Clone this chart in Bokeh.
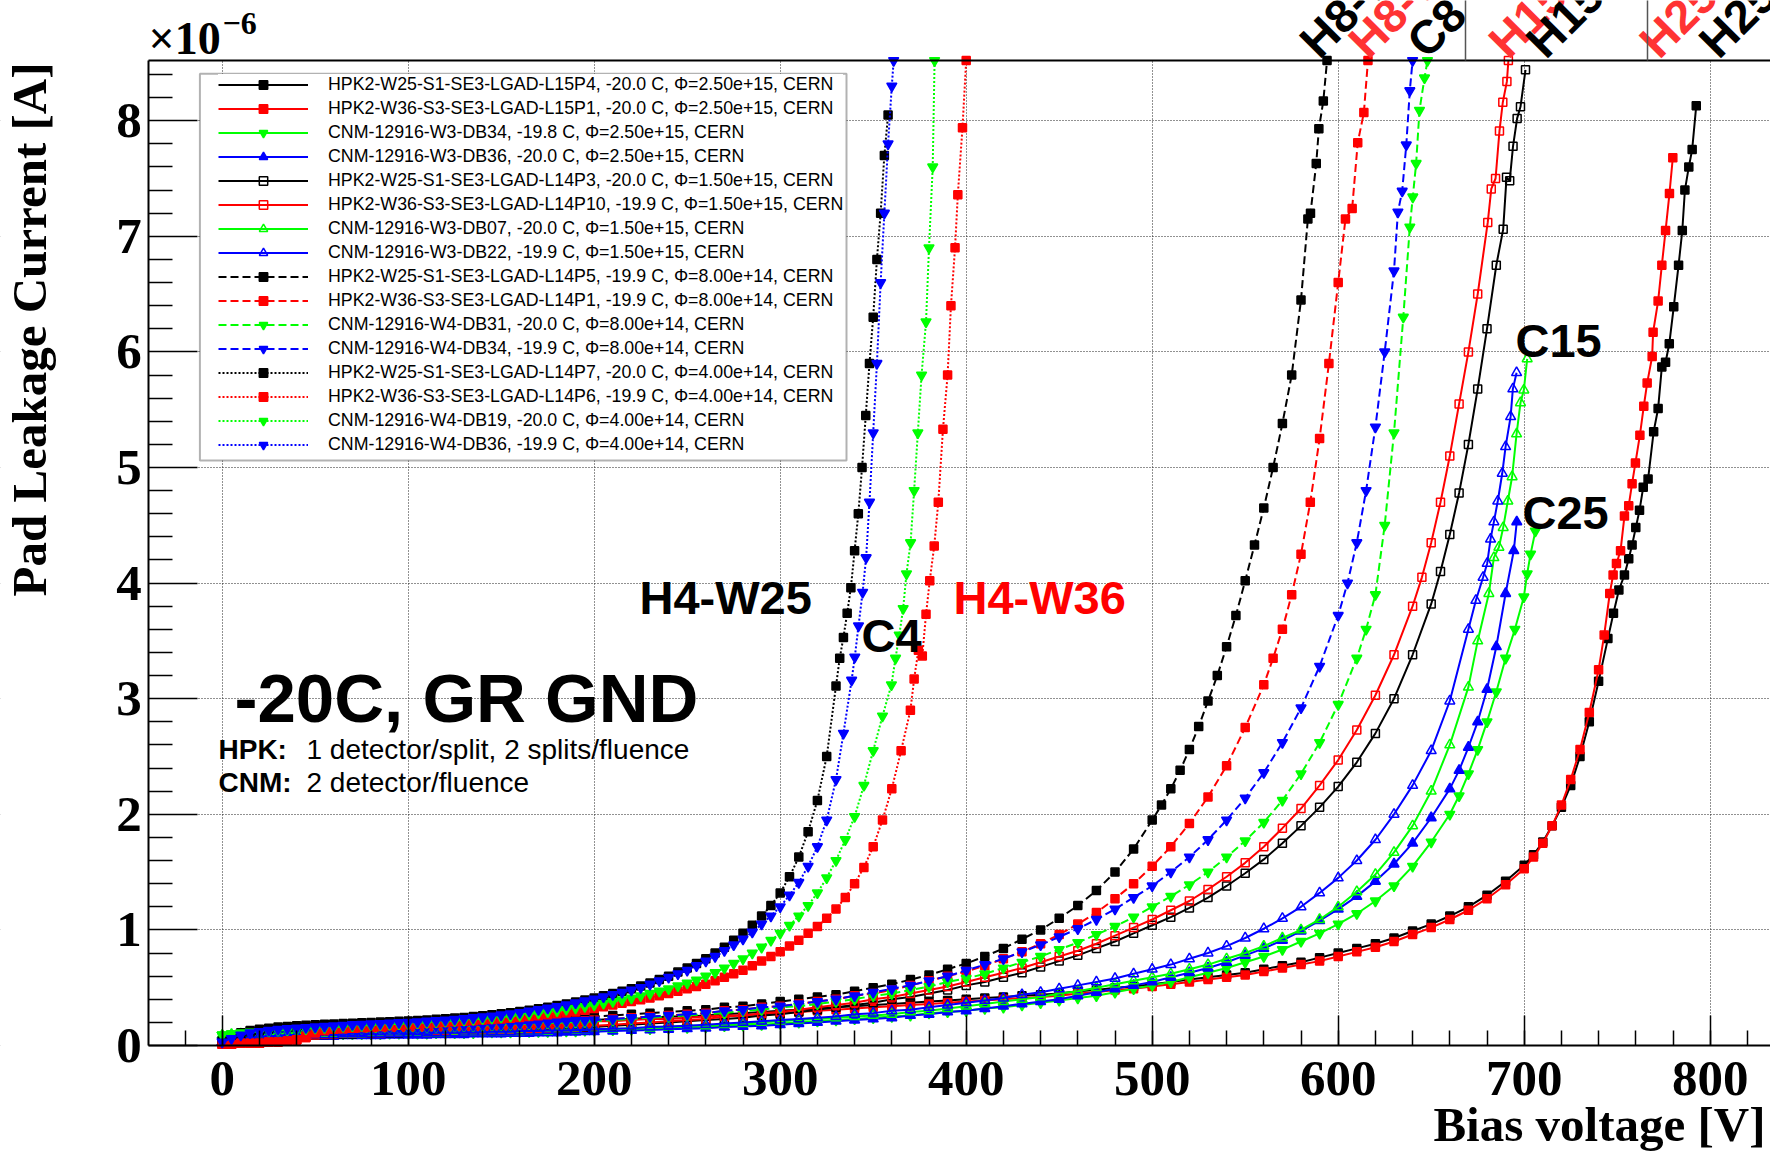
import math
from bokeh.plotting import figure
from bokeh.models import (Range1d, LinearAxis, FixedTicker, Legend, LegendItem, Label,
                          BoxAnnotation, Arrow, SingleIntervalTicker)
from bokeh.embed import file_html
from bokeh.resources import INLINE

# ---------------- data (bias voltage [V], pad current [1e-6 A]) ----------------
labels = [
    "HPK2-W25-S1-SE3-LGAD-L15P4, -20.0 C, \u03a6=2.50e+15, CERN",
    "HPK2-W36-S3-SE3-LGAD-L15P1, -20.0 C, \u03a6=2.50e+15, CERN",
    "CNM-12916-W3-DB34, -19.8 C, \u03a6=2.50e+15, CERN",
    "CNM-12916-W3-DB36, -20.0 C, \u03a6=2.50e+15, CERN",
    "HPK2-W25-S1-SE3-LGAD-L14P3, -20.0 C, \u03a6=1.50e+15, CERN",
    "HPK2-W36-S3-SE3-LGAD-L14P10, -19.9 C, \u03a6=1.50e+15, CERN",
    "CNM-12916-W3-DB07, -20.0 C, \u03a6=1.50e+15, CERN",
    "CNM-12916-W3-DB22, -19.9 C, \u03a6=1.50e+15, CERN",
    "HPK2-W25-S1-SE3-LGAD-L14P5, -19.9 C, \u03a6=8.00e+14, CERN",
    "HPK2-W36-S3-SE3-LGAD-L14P1, -19.9 C, \u03a6=8.00e+14, CERN",
    "CNM-12916-W4-DB31, -20.0 C, \u03a6=8.00e+14, CERN",
    "CNM-12916-W4-DB34, -19.9 C, \u03a6=8.00e+14, CERN",
    "HPK2-W25-S1-SE3-LGAD-L14P7, -20.0 C, \u03a6=4.00e+14, CERN",
    "HPK2-W36-S3-SE3-LGAD-L14P6, -19.9 C, \u03a6=4.00e+14, CERN",
    "CNM-12916-W4-DB19, -20.0 C, \u03a6=4.00e+14, CERN",
    "CNM-12916-W4-DB36, -19.9 C, \u03a6=4.00e+14, CERN",
]

# measurement voltage grids [V]
V_LOW = [0, 5, 10, 15, 20, 25, 30, 35, 40, 45,
         50, 55, 60, 65, 70, 75, 80, 85, 90, 95,
         100, 105, 110, 115, 120, 125, 130, 135, 140, 145,
         150, 155, 160, 165, 170, 175, 180, 185, 190, 195]
V_MID10 = [200, 210, 220, 230, 240, 250, 260, 270, 280, 290, 300, 310, 320, 330, 340, 350, 360, 370, 380, 390,
           400, 410, 420, 430, 440, 450, 460, 470, 480, 490, 500, 510, 520, 530, 540, 550, 560, 570, 580, 590,
           600, 610, 620, 630, 640, 650, 660, 670, 680, 690, 700]
V_MID5 = [200, 205, 210, 215, 220, 225, 230, 235, 240, 245, 250, 255, 260, 265, 270, 275, 280, 285, 290, 295,
          300, 305, 310, 315, 320, 325, 330, 335, 340, 345, 350, 355, 360, 365, 370]

# ---- 2.5e15 ----
v_h25_w25 = V_LOW + V_MID10[:51] + [705, 710, 715, 720, 725, 730, 735, 740, 745, 748, 750.9, 753.9, 756.2, 758,
                                    760, 762, 764, 766.6, 769.6, 772, 774, 776, 778, 780.4, 783, 785, 786.4,
                                    788.5, 790.3, 792.5]
i_h25_w25 = [0.03, 0.03, 0.04, 0.04, 0.04, 0.05, 0.05, 0.05, 0.06, 0.08,
             0.13, 0.14, 0.15, 0.15, 0.155, 0.16, 0.16, 0.165, 0.165, 0.17,
             0.17, 0.175, 0.175, 0.18, 0.18, 0.185, 0.185, 0.19, 0.19, 0.195,
             0.195, 0.2, 0.2, 0.205, 0.205, 0.21, 0.21, 0.215, 0.215, 0.22,
             0.22, 0.23, 0.23, 0.24, 0.25, 0.25, 0.26, 0.27, 0.28, 0.29,
             0.3, 0.31, 0.32, 0.33, 0.34, 0.35, 0.36, 0.37, 0.38, 0.39,
             0.4, 0.41, 0.42, 0.43, 0.44, 0.45, 0.47, 0.48, 0.5, 0.51,
             0.53, 0.55, 0.57, 0.59, 0.61, 0.63, 0.66, 0.69, 0.72, 0.76,
             0.8, 0.84, 0.88, 0.93, 0.99, 1.05, 1.12, 1.2, 1.3, 1.42,
             1.56, 1.65, 1.76, 1.9, 2.06, 2.25, 2.5, 2.8, 3.15, 3.52,
             3.74, 3.94, 4.07, 4.21, 4.33, 4.48, 4.63, 4.83, 4.9, 5.31,
             5.51, 5.87, 5.91, 6.07, 6.39, 6.75, 7.05, 7.4, 7.6, 7.75, 8.13]
v_h25_w36 = V_LOW + V_MID10[:51] + [705, 710, 715, 720, 725, 730, 735, 740, 743, 746, 747.8, 749.6, 751.8, 753.9,
                                    756.2, 758, 759.8, 762.2, 764.3, 766.1, 768.8, 769.3, 772, 774, 776, 778.1,
                                    779.9]
i_h25_w36 = [0.01, 0.01, 0.02, 0.02, 0.02, 0.03, 0.03, 0.04, 0.05, 0.07,
             0.11, 0.13, 0.14, 0.14, 0.145, 0.15, 0.15, 0.155, 0.155, 0.16,
             0.16, 0.165, 0.165, 0.17, 0.17, 0.17, 0.175, 0.175, 0.18, 0.18,
             0.18, 0.185, 0.185, 0.19, 0.19, 0.195, 0.195, 0.2, 0.2, 0.205,
             0.21, 0.21, 0.22, 0.23, 0.23, 0.24, 0.25, 0.26, 0.26, 0.27,
             0.28, 0.29, 0.3, 0.31, 0.32, 0.33, 0.34, 0.35, 0.36, 0.37,
             0.38, 0.39, 0.4, 0.41, 0.42, 0.43, 0.45, 0.46, 0.48, 0.49,
             0.51, 0.53, 0.55, 0.57, 0.59, 0.61, 0.64, 0.67, 0.7, 0.73,
             0.77, 0.81, 0.85, 0.9, 0.96, 1.02, 1.09, 1.17, 1.27, 1.39,
             1.53, 1.63, 1.75, 1.9, 2.08, 2.3, 2.56, 2.88, 3.25, 3.55,
             3.91, 4.07, 4.17, 4.28, 4.58, 4.67, 4.86, 5.04, 5.28, 5.53,
             5.73, 5.96, 6.17, 6.44, 6.75, 7.05, 7.37, 7.68]
v_c25_db34 = V_LOW + V_MID10[:47] + [665, 670, 675, 680, 685, 690, 695, 699.8, 701.6, 703.4, 706]
i_c25_db34 = [0.09, 0.095, 0.1, 0.1, 0.1, 0.1, 0.1, 0.1, 0.1, 0.1,
              0.1, 0.1, 0.1, 0.1, 0.1, 0.1, 0.1, 0.1, 0.105, 0.105,
              0.105, 0.105, 0.105, 0.11, 0.11, 0.11, 0.11, 0.11, 0.115, 0.115,
              0.115, 0.115, 0.12, 0.12, 0.12, 0.12, 0.125, 0.125, 0.125, 0.13,
              0.13, 0.135, 0.14, 0.145, 0.15, 0.155, 0.16, 0.17, 0.175, 0.18,
              0.19, 0.2, 0.21, 0.22, 0.23, 0.24, 0.25, 0.26, 0.28, 0.29,
              0.3, 0.32, 0.33, 0.35, 0.37, 0.39, 0.41, 0.43, 0.46, 0.49,
              0.52, 0.55, 0.59, 0.63, 0.67, 0.72, 0.77, 0.83, 0.9, 0.97,
              1.05, 1.14, 1.25, 1.38, 1.55, 1.76, 2.0,
              2.16, 2.35, 2.56, 2.8, 3.06, 3.35, 3.6, 3.88, 4.08, 4.25, 4.45]
v_c25_db36 = V_LOW + V_MID10[:47] + [665, 670, 675, 680, 685, 690, 694.4, 696]
i_c25_db36 = [0.03, 0.05, 0.06, 0.065, 0.07, 0.07, 0.075, 0.075, 0.08, 0.08,
              0.08, 0.08, 0.08, 0.085, 0.085, 0.085, 0.085, 0.085, 0.09, 0.09,
              0.09, 0.09, 0.09, 0.095, 0.095, 0.095, 0.095, 0.1, 0.1, 0.1,
              0.1, 0.105, 0.105, 0.105, 0.11, 0.11, 0.11, 0.115, 0.115, 0.12,
              0.12, 0.125, 0.13, 0.135, 0.14, 0.145, 0.15, 0.16, 0.165, 0.17,
              0.18, 0.19, 0.2, 0.21, 0.22, 0.23, 0.24, 0.26, 0.27, 0.29,
              0.3, 0.32, 0.34, 0.36, 0.38, 0.4, 0.43, 0.46, 0.49, 0.52,
              0.55, 0.59, 0.63, 0.67, 0.72, 0.78, 0.84, 0.91, 0.99, 1.08,
              1.18, 1.29, 1.42, 1.57, 1.75, 1.97, 2.22,
              2.38, 2.58, 2.8, 3.08, 3.45, 3.91, 4.28, 4.53]

# ---- 1.5e15 ----
v_h15_w25 = V_LOW + V_MID10[:46] + [655, 660, 665, 670, 675, 680, 685, 688.7, 690.5, 692.2, 694, 696.2, 698,
                                    700.7]
i_h15_w25 = [0.02, 0.02, 0.03, 0.03, 0.03, 0.04, 0.05, 0.06, 0.07, 0.08,
             0.09, 0.095, 0.1, 0.1, 0.1, 0.105, 0.105, 0.11, 0.11, 0.11,
             0.115, 0.115, 0.12, 0.12, 0.12, 0.125, 0.125, 0.13, 0.13, 0.13,
             0.135, 0.135, 0.14, 0.14, 0.145, 0.145, 0.15, 0.15, 0.155, 0.155,
             0.16, 0.17, 0.18, 0.19, 0.2, 0.21, 0.22, 0.23, 0.24, 0.26,
             0.27, 0.29, 0.31, 0.33, 0.35, 0.37, 0.4, 0.42, 0.45, 0.48,
             0.52, 0.55, 0.59, 0.63, 0.68, 0.73, 0.78, 0.84, 0.9, 0.97,
             1.04, 1.11, 1.19, 1.28, 1.38, 1.49, 1.61, 1.75, 1.9, 2.06,
             2.24, 2.45, 2.7, 3.0, 3.38, 3.82,
             4.1, 4.42, 4.78, 5.2, 5.68, 6.2, 6.75, 7.06, 7.51, 7.48, 7.78, 8.02, 8.12, 8.44]
v_h15_w36 = V_LOW + V_MID10[:45] + [645, 650, 655, 660, 665, 670, 675, 680.4, 682.3, 684.6, 686.7, 688.5,
                                    690.7, 691.5]
i_h15_w36 = [0.01, 0.01, 0.02, 0.02, 0.02, 0.03, 0.03, 0.04, 0.05, 0.07,
             0.09, 0.1, 0.1, 0.105, 0.105, 0.11, 0.11, 0.11, 0.115, 0.115,
             0.12, 0.12, 0.12, 0.125, 0.125, 0.13, 0.13, 0.13, 0.135, 0.135,
             0.14, 0.14, 0.145, 0.145, 0.15, 0.15, 0.155, 0.16, 0.16, 0.165,
             0.17, 0.18, 0.19, 0.2, 0.21, 0.22, 0.23, 0.25, 0.26, 0.28,
             0.29, 0.31, 0.33, 0.35, 0.37, 0.4, 0.42, 0.45, 0.48, 0.51,
             0.55, 0.59, 0.63, 0.67, 0.72, 0.77, 0.82, 0.88, 0.95, 1.02,
             1.09, 1.17, 1.25, 1.35, 1.46, 1.58, 1.72, 1.88, 2.05, 2.25,
             2.47, 2.73, 3.03, 3.38, 3.8,
             4.05, 4.35, 4.7, 5.1, 5.55, 6.0, 6.5, 7.12, 7.41, 7.5, 7.91, 8.16, 8.34, 8.52]
v_c15_db07 = V_LOW + V_MID10[:48] + [675, 681, 683.7, 686.4, 688.7, 691.2, 693.5, 695.9, 698, 699.8, 701.6]
i_c15_db07 = [0.09, 0.095, 0.1, 0.1, 0.1, 0.1, 0.1, 0.1, 0.1, 0.1,
              0.1, 0.1, 0.1, 0.1, 0.1, 0.1, 0.105, 0.105, 0.105, 0.105,
              0.11, 0.11, 0.11, 0.11, 0.11, 0.115, 0.115, 0.115, 0.115, 0.12,
              0.12, 0.12, 0.12, 0.125, 0.125, 0.125, 0.13, 0.13, 0.13, 0.135,
              0.14, 0.14, 0.15, 0.15, 0.16, 0.17, 0.17, 0.18, 0.19, 0.2,
              0.21, 0.22, 0.23, 0.24, 0.25, 0.26, 0.27, 0.29, 0.3, 0.32,
              0.34, 0.36, 0.38, 0.4, 0.42, 0.45, 0.47, 0.5, 0.53, 0.56,
              0.59, 0.62, 0.66, 0.7, 0.75, 0.8, 0.86, 0.93, 1.0, 1.09,
              1.2, 1.33, 1.48, 1.67, 1.9, 2.2, 2.6, 3.1,
              3.5, 3.91, 4.22, 4.31, 4.48, 4.71, 4.92, 5.29, 5.56, 5.67, 5.94]
v_c15_db22 = V_LOW + V_MID10[:48] + [674, 677.9, 680.1, 681.9, 683.7, 685.8, 688.2, 690, 692.7, 693.9, 695.9]
i_c15_db22 = [0.03, 0.05, 0.06, 0.07, 0.08, 0.08, 0.085, 0.09, 0.09, 0.09,
              0.095, 0.095, 0.095, 0.1, 0.1, 0.1, 0.1, 0.1, 0.105, 0.105,
              0.105, 0.105, 0.11, 0.11, 0.11, 0.11, 0.115, 0.115, 0.115, 0.12,
              0.12, 0.12, 0.125, 0.125, 0.125, 0.13, 0.13, 0.13, 0.135, 0.135,
              0.14, 0.145, 0.15, 0.16, 0.165, 0.17, 0.18, 0.19, 0.2, 0.21,
              0.22, 0.23, 0.24, 0.25, 0.27, 0.28, 0.3, 0.31, 0.33, 0.35,
              0.37, 0.39, 0.41, 0.44, 0.46, 0.49, 0.52, 0.55, 0.58, 0.62,
              0.66, 0.7, 0.75, 0.8, 0.86, 0.93, 1.01, 1.1, 1.2, 1.32,
              1.45, 1.6, 1.78, 2.0, 2.25, 2.55, 2.98, 3.6,
              3.85, 4.05, 4.17, 4.38, 4.53, 4.71, 4.95, 5.18, 5.44, 5.68, 5.82]

# ---- 8e14 ----
v_h8_w25 = V_LOW + V_MID10[:31] + [505, 510, 515, 520, 525, 530, 535, 540, 545, 550, 555, 560, 565, 570, 575, 580,
                                   583.7, 585.1, 588.2, 589.6, 592, 594]
i_h8_w25 = [0.03, 0.07, 0.1, 0.12, 0.13, 0.14, 0.15, 0.155, 0.16, 0.163,
            0.166, 0.17, 0.172, 0.175, 0.177, 0.18, 0.182, 0.184, 0.186, 0.188,
            0.19, 0.192, 0.195, 0.197, 0.2, 0.202, 0.205, 0.207, 0.21, 0.212,
            0.215, 0.218, 0.221, 0.224, 0.227, 0.23, 0.233, 0.237, 0.24, 0.244,
            0.25, 0.26, 0.27, 0.28, 0.29, 0.3, 0.31, 0.33, 0.34, 0.36,
            0.38, 0.4, 0.42, 0.44, 0.47, 0.5, 0.53, 0.57, 0.61, 0.66,
            0.71, 0.77, 0.84, 0.92, 1.0, 1.1, 1.21, 1.34, 1.5, 1.7,
            1.95, 2.08, 2.22, 2.38, 2.56, 2.76, 2.98, 3.2, 3.45, 3.72,
            4.02, 4.33, 4.65, 5.0, 5.38, 5.8, 6.45,
            7.15, 7.2, 7.63, 7.93, 8.17, 8.52]
v_h8_w36 = V_LOW + V_MID10[:37] + [565, 570, 575, 580, 585, 590, 595, 600, 603.9, 607.5, 610.5, 613.8, 616]
i_h8_w36 = [0.01, 0.01, 0.02, 0.02, 0.02, 0.03, 0.03, 0.04, 0.05, 0.08,
            0.11, 0.13, 0.14, 0.145, 0.15, 0.153, 0.156, 0.16, 0.163, 0.166,
            0.17, 0.172, 0.174, 0.176, 0.178, 0.18, 0.182, 0.184, 0.186, 0.188,
            0.19, 0.192, 0.195, 0.198, 0.2, 0.203, 0.206, 0.209, 0.212, 0.215,
            0.22, 0.23, 0.24, 0.25, 0.26, 0.27, 0.28, 0.3, 0.31, 0.33,
            0.34, 0.36, 0.38, 0.4, 0.43, 0.45, 0.48, 0.52, 0.56, 0.6,
            0.64, 0.69, 0.75, 0.81, 0.88, 0.96, 1.05, 1.15, 1.27, 1.4,
            1.55, 1.72, 1.92, 2.15, 2.42, 2.75, 3.12,
            3.35, 3.6, 3.9, 4.25, 4.7, 5.25, 5.9, 6.6,
            7.15, 7.24, 7.81, 8.07, 8.52]
v_c8_db31 = V_LOW + V_MID10[:42] + [615, 620, 625, 630, 635, 638.5, 640.1, 641.9, 643.7, 646.4, 648]
i_c8_db31 = [0.09, 0.1, 0.105, 0.11, 0.115, 0.12, 0.125, 0.128, 0.131, 0.134,
             0.137, 0.14, 0.142, 0.144, 0.146, 0.148, 0.15, 0.152, 0.154, 0.156,
             0.158, 0.16, 0.162, 0.164, 0.166, 0.168, 0.17, 0.172, 0.175, 0.178,
             0.18, 0.183, 0.186, 0.189, 0.192, 0.195, 0.198, 0.2, 0.203, 0.206,
             0.21, 0.22, 0.23, 0.24, 0.25, 0.26, 0.27, 0.28, 0.3, 0.31,
             0.33, 0.34, 0.36, 0.38, 0.4, 0.43, 0.45, 0.48, 0.51, 0.55,
             0.58, 0.62, 0.67, 0.72, 0.77, 0.83, 0.89, 0.96, 1.03, 1.11,
             1.2, 1.29, 1.39, 1.5, 1.63, 1.77, 1.93, 2.12, 2.35, 2.62,
             2.95, 3.35,
             3.6, 3.9, 4.5, 5.3, 6.3,
             7.08, 7.34, 7.63, 8.09, 8.37, 8.52]
v_c8_db34 = V_LOW + V_MID10[:41] + [605, 610, 615, 620, 625, 630, 632.1, 634.4, 636.6, 638.5, 640]
i_c8_db34 = [0.04, 0.07, 0.09, 0.1, 0.11, 0.115, 0.12, 0.125, 0.13, 0.133,
             0.136, 0.14, 0.142, 0.145, 0.147, 0.15, 0.152, 0.154, 0.156, 0.158,
             0.16, 0.162, 0.165, 0.167, 0.17, 0.172, 0.175, 0.177, 0.18, 0.183,
             0.186, 0.189, 0.192, 0.195, 0.198, 0.202, 0.206, 0.21, 0.214, 0.218,
             0.22, 0.23, 0.24, 0.25, 0.26, 0.27, 0.28, 0.3, 0.31, 0.33,
             0.34, 0.36, 0.38, 0.4, 0.43, 0.46, 0.49, 0.52, 0.56, 0.6,
             0.65, 0.7, 0.75, 0.81, 0.87, 0.94, 1.01, 1.09, 1.18, 1.28,
             1.38, 1.5, 1.63, 1.78, 1.95, 2.14, 2.36, 2.62, 2.92, 3.28,
             3.72,
             4.0, 4.35, 4.8, 5.35, 6.0, 6.7,
             7.21, 7.39, 7.79, 8.26, 8.52]

# ---- 4e14 ----
v_h4_w25 = V_LOW + V_MID5[:26] + [330, 332, 334, 336, 338, 340, 342, 344, 346, 348, 350, 352, 354, 356, 358]
i_h4_w25 = [0.04, 0.08, 0.11, 0.13, 0.14, 0.15, 0.16, 0.165, 0.17, 0.175,
            0.18, 0.183, 0.186, 0.19, 0.193, 0.196, 0.2, 0.203, 0.206, 0.21,
            0.213, 0.217, 0.221, 0.226, 0.231, 0.237, 0.243, 0.25, 0.257, 0.265,
            0.274, 0.284, 0.295, 0.306, 0.318, 0.331, 0.345, 0.36, 0.376, 0.393,
            0.41, 0.43, 0.45, 0.47, 0.49, 0.515, 0.54, 0.57, 0.6, 0.635,
            0.67, 0.71, 0.75, 0.8, 0.85, 0.91, 0.97, 1.04, 1.12, 1.21,
            1.32, 1.46, 1.63, 1.85, 2.12, 2.5,
            3.11, 3.35, 3.53, 3.74, 3.96, 4.28, 4.6, 5.0, 5.45, 5.9, 6.3, 6.8, 7.2, 7.7, 8.05]
v_h4_w36 = V_LOW + V_MID5[:35] + [372, 374.3, 376.4, 378.4, 380.4, 382.8, 385, 387.5, 390, 391.8, 394, 395.5,
                                  398, 400]
i_h4_w36 = [0.01, 0.01, 0.02, 0.02, 0.02, 0.03, 0.03, 0.04, 0.05, 0.08,
            0.11, 0.13, 0.14, 0.145, 0.15, 0.155, 0.16, 0.165, 0.17, 0.175,
            0.18, 0.185, 0.19, 0.195, 0.2, 0.205, 0.21, 0.215, 0.22, 0.225,
            0.23, 0.236, 0.242, 0.25, 0.258, 0.266, 0.275, 0.285, 0.295, 0.306,
            0.32, 0.335, 0.35, 0.365, 0.38, 0.395, 0.41, 0.43, 0.45, 0.47,
            0.49, 0.51, 0.53, 0.56, 0.59, 0.62, 0.65, 0.69, 0.73, 0.77,
            0.81, 0.86, 0.91, 0.97, 1.03, 1.1, 1.18, 1.28, 1.4, 1.54,
            1.72, 1.95, 2.22, 2.55, 2.9,
            3.17, 3.42, 3.37, 3.73, 4.02, 4.32, 4.7, 5.33, 5.8, 6.4, 6.9, 7.36, 7.94, 8.52]
v_c4_db19 = V_LOW + V_MID5[:32] + [359.8, 362, 364, 366.1, 367.9, 370.1, 372, 374, 376, 378.4, 380, 382, 383]
i_c4_db19 = [0.09, 0.1, 0.11, 0.115, 0.12, 0.125, 0.13, 0.135, 0.14, 0.145,
             0.15, 0.155, 0.16, 0.165, 0.17, 0.173, 0.176, 0.18, 0.184, 0.188,
             0.19, 0.195, 0.2, 0.205, 0.21, 0.215, 0.22, 0.226, 0.232, 0.238,
             0.245, 0.253, 0.261, 0.27, 0.28, 0.29, 0.3, 0.312, 0.324, 0.337,
             0.35, 0.365, 0.38, 0.395, 0.41, 0.43, 0.45, 0.47, 0.49, 0.515,
             0.54, 0.565, 0.6, 0.63, 0.67, 0.71, 0.75, 0.8, 0.85, 0.91,
             0.97, 1.04, 1.12, 1.21, 1.32, 1.45, 1.6, 1.78, 1.98, 2.25,
             2.55, 2.85,
             3.12, 3.35, 3.55, 3.78, 4.08, 4.35, 4.8, 5.3, 5.8, 6.26, 6.9, 7.6, 8.52]
v_c4_db36 = V_LOW + V_MID5[:26] + [330, 334, 338.4, 340.1, 342.1, 344.3, 346.2, 348, 350, 352, 354, 356, 358, 360,
                                   361]
i_c4_db36 = [0.03, 0.06, 0.09, 0.11, 0.12, 0.13, 0.14, 0.145, 0.15, 0.155,
             0.16, 0.165, 0.17, 0.175, 0.18, 0.183, 0.186, 0.19, 0.194, 0.198,
             0.2, 0.205, 0.21, 0.215, 0.22, 0.226, 0.233, 0.24, 0.247, 0.255,
             0.264, 0.274, 0.285, 0.297, 0.31, 0.323, 0.337, 0.352, 0.368, 0.385,
             0.4, 0.42, 0.44, 0.46, 0.48, 0.5, 0.53, 0.56, 0.59, 0.62,
             0.65, 0.69, 0.73, 0.77, 0.82, 0.87, 0.92, 0.98, 1.05, 1.12,
             1.2, 1.3, 1.41, 1.55, 1.72, 1.95,
             2.3, 2.7, 3.16, 3.36, 3.63, 3.92, 4.22, 4.7, 5.3, 5.9, 6.6, 7.2, 7.8, 8.3, 8.52]

series_v = [v_h25_w25, v_h25_w36, v_c25_db34, v_c25_db36, v_h15_w25, v_h15_w36, v_c15_db07, v_c15_db22,
            v_h8_w25, v_h8_w36, v_c8_db31, v_c8_db34, v_h4_w25, v_h4_w36, v_c4_db19, v_c4_db36]
series_i = [i_h25_w25, i_h25_w36, i_c25_db34, i_c25_db36, i_h15_w25, i_h15_w36, i_c15_db07, i_c15_db22,
            i_h8_w25, i_h8_w36, i_c8_db31, i_c8_db34, i_h4_w25, i_h4_w36, i_c4_db19, i_c4_db36]

y_ticks_major = [0, 1, 2, 3, 4, 5, 6, 7, 8]

# styles
colors = ["#000000", "#ff0000", "#00ff00", "#0000ff"] * 4
dashes = ["solid"] * 8 + ["8 4"] * 4 + ["2 2"] * 4
markers = ["square", "square", "inverted_triangle", "triangle",
           "square", "square", "triangle", "triangle",
           "square", "square", "inverted_triangle", "inverted_triangle",
           "square", "square", "inverted_triangle", "inverted_triangle"]
filled = [True] * 4 + [False] * 4 + [True] * 8

# ---------------- geometry (canvas px) ----------------
W, H = 1770, 1151
PX0, PX_PER_V = 221.7, 1.86          # x=0 V at px 221.7
PY0, PY_PER_UA = 1045.0, 115.6       # y=0 at px 1045
FRAME_LEFT_PX, FRAME_TOP_PX = 148.3, 60.0
x_lo = (0 - PX0) / PX_PER_V
x_hi = (W - PX0) / PX_PER_V
y_lo = (PY0 - H) / PY_PER_UA
y_hi = PY0 / PY_PER_UA
x_axis_lo = (FRAME_LEFT_PX - PX0) / PX_PER_V
y_axis_hi = (PY0 - FRAME_TOP_PX) / PY_PER_UA

p = figure(width=W, height=H, output_backend="svg", toolbar_location=None,
           x_range=Range1d(x_lo, x_hi), y_range=Range1d(y_lo, y_hi),
           min_border_left=0, min_border_right=0, min_border_top=0, min_border_bottom=0)
p.title.visible = False
p.outline_line_color = None
p.background_fill_color = "white"
p.border_fill_color = "white"

serif = "Liberation Serif"
sans = "Liberation Sans"

xt = SingleIntervalTicker(interval=100, num_minor_ticks=5)
yt = FixedTicker(ticks=y_ticks_major, minor_ticks=[k * 0.2 for k in range(43) if k % 5 != 0])
p.xaxis.ticker = xt
p.yaxis.ticker = yt
p.xgrid.ticker = xt
p.ygrid.ticker = yt
p.xaxis.fixed_location = 0
p.yaxis.fixed_location = x_axis_lo
p.xaxis.bounds = (x_axis_lo, x_hi)
p.yaxis.bounds = (0, y_axis_hi)
for ax in (p.xaxis[0], p.yaxis[0]):
    ax.axis_line_width = 2
    ax.axis_line_color = "black"
    ax.major_tick_out = 0
    ax.minor_tick_out = 0
    ax.major_tick_line_width = 1.5
    ax.minor_tick_line_width = 1.5
    ax.major_label_text_font = serif
    ax.major_label_text_font_style = "bold"
    ax.major_label_text_font_size = "51px"
    ax.major_label_text_color = "black"
p.xaxis.major_tick_in = 30
p.xaxis.minor_tick_in = 15
p.xaxis.major_label_standoff = 16
p.yaxis.major_tick_in = 49
p.yaxis.minor_tick_in = 24
p.yaxis.major_label_standoff = 7

top_axis = LinearAxis(ticker=FixedTicker(ticks=[]), axis_line_width=2, axis_line_color="black",
                      major_label_text_font_size="0px", major_tick_in=0, major_tick_out=0,
                      minor_tick_in=0, minor_tick_out=0, fixed_location=y_axis_hi, bounds=(x_axis_lo, x_hi))
p.add_layout(top_axis, "above")

for g in (p.xgrid[0], p.ygrid[0]):
    g.grid_line_color = "#222222"
    g.grid_line_dash = "1 2"
    g.grid_line_width = 1

# white margins outside the ROOT frame (cover grid lines)
for kw in (dict(bottom=y_axis_hi, top=y_hi + 1, left=x_lo - 10, right=x_hi + 10),
           dict(top=0, bottom=y_lo - 1, left=x_lo - 10, right=x_hi + 10),
           dict(right=x_axis_lo, left=x_lo - 10, bottom=y_lo - 1, top=y_hi + 1)):
    p.add_layout(BoxAnnotation(fill_color="white", fill_alpha=1, line_alpha=0, level="underlay", **kw))

# legend box
box = BoxAnnotation(left=199.4, right=846, bottom=H - 460, top=H - 73.3, left_units="screen",
                    right_units="screen", bottom_units="screen", top_units="screen", fill_color="white",
                    fill_alpha=1, line_color="black", line_width=2, level="underlay")
p.add_layout(box)

items = []
for k in range(16):
    n = min(len(series_v[k]), len(series_i[k]))
    xs, ys = series_v[k][:n], series_i[k][:n]
    lr = p.line(xs, ys, line_color=colors[k], line_width=2, line_dash=dashes[k])
    size = 8 if markers[k] == "square" else 10
    sr = p.scatter(xs, ys, marker=markers[k], size=size, line_color=colors[k],
                   line_width=1.5, fill_color=colors[k] if filled[k] else None)
    items.append(LegendItem(label=labels[k], renderers=[lr, sr]))

legend = Legend(items=items, location=(218, H - 454.5), padding=0, margin=0, spacing=3, glyph_width=90,
                glyph_height=21, label_height=21, label_standoff=20, label_text_font=sans,
                label_text_font_size="17.8px", label_text_color="black", border_line_color=None,
                background_fill_color="white", background_fill_alpha=1.0)
p.add_layout(legend)

SHIFT = 0.32  # baseline correction (fraction of font size)


def lab(text, xc, yc, size, color="black", font=sans, style="bold", align="left", angle=0):
    """xc, yc: desired baseline anchor in canvas pixels (y from top)."""
    d = SHIFT * size
    a = math.radians(angle)
    sx = xc - d * math.sin(a)
    sy = (H - yc) + d * math.cos(a)
    p.add_layout(Label(x=sx, y=sy, x_units="screen", y_units="screen", text=text, text_font=font,
                       text_font_style=style, text_font_size=f"{size}px", text_color=color,
                       text_align=align, text_baseline="alphabetic", angle=angle, angle_units="deg"))


# axis titles and exponent
lab("Pad Leakage Current [A]", 45, 62, 49, font=serif, align="right", angle=90)
lab("Bias voltage [V]", 1765, 1140, 49, font=serif, align="right")
lab("\u00d710", 148, 53, 46, font=serif)
lab("\u22126", 222, 33, 32, font=serif)

# annotations
lab("-20C, GR GND", 234, 720, 69)
lab("HPK:", 218, 758, 28)
lab("1 detector/split, 2 splits/fluence", 306, 758, 28, style="normal")
lab("CNM:", 218, 791, 28)
lab("2 detector/fluence", 306, 791, 28, style="normal")
lab("H4-W25", 639, 612, 47)
lab("H4-W36", 953, 612, 47, color="#ff0000")
lab("C4", 861, 650, 47)
lab("C15", 1515, 355, 47)
lab("C25", 1522, 527, 47)

# rotated labels above the frame
top_names = ["H8-W25", "H8-W36", "C8", "H15-W36", "H15-W25", "H25-W36", "H25-W25"]
top_v = [589.4, 615.6, 647, 691, 711, 772, 804]
top_col = ["#000000", "#ff3333", "#000000", "#ff3333", "#000000", "#ff3333", "#000000"]
for t, xv, c in zip(top_names, top_v, top_col):
    lab(t, PX0 + xv * PX_PER_V, FRAME_TOP_PX - 1, 47, color=c, angle=45)

for xs_ in (1465, 1647):
    p.add_layout(Arrow(x_start=xs_, y_start=H - FRAME_TOP_PX, x_end=xs_, y_end=H + 5, start_units="screen",
                       end_units="screen", end=None, line_color="#555555", line_width=1.5))

open("out.html", "w").write(file_html(p, INLINE))
